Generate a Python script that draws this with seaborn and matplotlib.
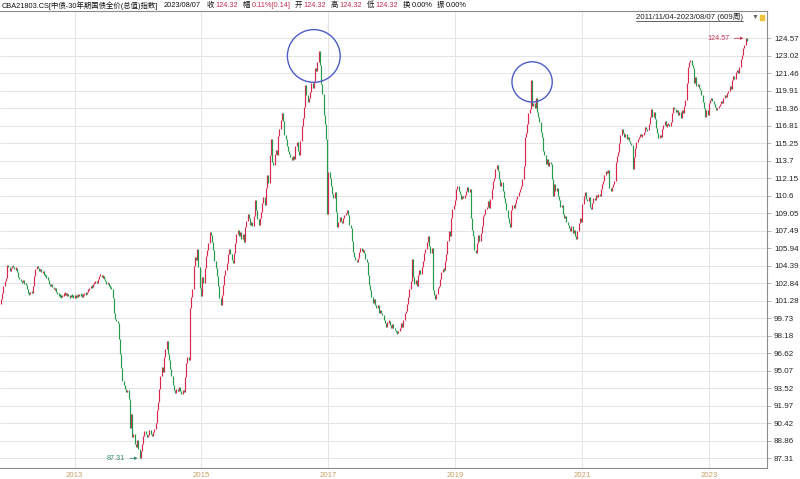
import numpy as np
import pandas as pd
import seaborn as sns
import matplotlib.pyplot as plt
from matplotlib.patches import Rectangle

sns.set_theme(style="white")
plt.rcParams['font.family'] = ['Liberation Sans', 'Noto Sans CJK SC', 'DejaVu Sans']


# weekly closes, 2011/11/04 - 2023/08/07 (609 weeks)
close_2011_2014 = [
    101.4, 102.0, 102.6, 103.0, 103.3, 104.5, 104.3, 103.9, 104.2, 104.4,
    104.3, 104.1, 104.2, 103.8, 103.4, 103.2, 103.0, 102.95, 103.1, 102.8,
    102.7, 102.3, 102.0, 101.9, 102.1, 102.0, 102.6, 103.5, 104.1, 104.4,
    104.2, 103.9, 104.1, 103.8, 103.9, 103.6, 103.5, 103.4, 103.1, 102.8,
    102.6, 102.8, 102.5, 102.3, 102.4, 102.1, 101.9, 101.8, 101.7, 101.6,
    101.8, 101.9, 102.0, 101.8, 101.9, 101.7, 101.6, 101.8, 101.7, 101.6,
    101.7, 101.6, 101.8, 101.7, 101.9, 101.8, 101.7, 101.8, 102.0, 101.9,
    102.1, 102.3, 102.4, 102.6, 102.5, 102.8, 102.9, 103.0, 102.9, 103.2,
    103.5, 103.6, 103.4, 103.5, 103.2, 103.0, 102.8, 102.9, 102.6, 102.5,
    102.3, 101.5, 100.2, 99.7, 99.5, 99.3, 97.9, 96.6, 95.3, 94.2,
    93.8, 93.5, 93.2, 93.4, 92.6, 90.0, 91.2, 89.2, 89.5, 88.6,
    88.3, 88.9, 88.1, 87.31, 88.0, 88.6, 89.3, 89.7, 89.5, 89.2,
    89.4, 89.8, 89.5, 89.3, 89.6, 89.9, 90.4, 91.6, 92.3, 93.5,
    94.6, 95.4, 95.0, 96.3, 97.0, 97.7, 96.6, 96.0, 95.2, 94.6,
    93.8, 93.4, 93.1, 93.5, 93.3, 93.6, 93.3, 93.0, 93.4, 93.2,
    94.5, 95.8, 96.3, 96.0,
]
close_2014_2016 = [
    100.6, 101.6, 102.3, 104.4, 105.2, 104.9, 105.9, 104.3, 102.4, 101.7,
    103.4, 102.9, 104.2, 105.3, 105.8, 106.4, 107.4, 107.1, 106.5, 105.8,
    104.8, 104.2, 103.5, 102.6, 101.5, 100.9, 101.8, 102.7, 103.6, 104.0,
    104.6, 105.4, 105.9, 105.4, 104.9, 104.6, 105.5, 106.4, 107.2, 107.6,
    107.0, 107.4, 106.8, 107.2, 106.5, 107.8, 108.4, 109.0, 108.6, 108.0,
    108.3, 107.9, 108.8, 110.2, 109.3, 108.5, 108.0, 108.6, 109.2, 110.0,
    110.5, 109.8, 111.3, 112.4, 111.7, 114.2, 115.6, 113.6, 113.3, 114.3,
    114.7, 114.2, 115.9, 116.5, 117.3, 117.9, 117.2, 116.0, 115.6, 115.0,
    114.6, 114.3, 114.0, 113.8, 114.1, 113.9, 115.0, 115.4, 114.6, 114.2,
    115.5, 116.8, 117.5, 118.5, 120.4, 119.5, 118.9, 119.3, 119.8, 120.6,
    120.2, 120.8, 121.9, 121.7, 122.5, 123.4, 122.2, 120.5, 119.6, 117.8,
    117.0, 115.6, 109.0,
]
close_2016_2017 = [
    112.7, 112.2, 111.5, 110.8, 110.4, 110.9, 109.2, 107.8, 108.3, 108.7,
    108.4, 108.2, 108.6, 108.9, 109.1, 109.3, 108.9, 108.0, 107.7, 106.6,
    105.6, 105.2, 104.9, 104.7, 105.1, 105.6, 106.0, 105.7, 105.8, 105.5,
    105.0, 104.7, 103.6, 102.7, 102.2, 101.6, 101.1, 101.4, 100.9, 100.6,
    100.9, 100.2, 100.5,
]
close_2017_2020 = [
    100.2, 100.0, 99.6, 99.3, 99.0, 99.4, 99.5, 99.1, 98.9, 99.2,
    98.9, 98.7, 98.5, 98.4, 98.6, 98.9, 99.3, 99.0, 99.6, 100.2,
    100.4, 101.0, 101.6, 102.3, 103.0, 105.0, 103.4, 102.8, 103.1, 102.6,
    103.6, 104.0, 103.7, 104.3, 104.8, 105.5, 105.9, 106.5, 107.0, 106.1,
    105.5, 106.0, 102.2, 101.8, 101.4, 101.9, 102.4, 102.6, 103.2, 103.8,
    104.1, 104.0, 104.8, 105.4, 106.6, 107.5, 107.0, 108.6, 109.4, 109.8,
    110.2, 111.2, 111.5, 111.0, 110.8, 110.3, 110.6, 110.4, 110.7, 111.0,
    111.4, 110.9, 111.2, 108.6, 107.6, 107.0, 105.8, 105.5, 106.4, 107.1,
    106.6, 107.3, 107.9, 108.8, 109.0, 109.4, 109.6, 110.1, 109.5, 110.3,
    111.2, 111.9, 112.2, 113.0, 113.3, 112.8, 112.1, 111.5, 111.8, 111.0,
    110.4, 110.0, 109.3, 108.6, 108.2, 107.8, 109.3, 109.8, 109.5, 110.0,
    110.3, 110.6, 110.9, 111.2, 111.5, 112.1, 113.2, 115.8, 116.2, 117.0,
    117.9, 118.3, 120.9, 118.6, 118.8, 118.4, 119.3, 118.0, 117.6, 117.1,
    116.3, 115.8, 114.6, 114.2, 113.4, 113.9, 113.2, 113.6, 113.4, 112.1,
    110.6, 111.6, 111.0, 111.3, 110.6, 110.2, 109.6, 109.8, 109.0, 108.6,
    108.8, 108.3, 108.0, 107.7, 107.5, 107.9,
]
close_2020_2023 = [
    107.3, 107.6, 107.0, 106.8,
    107.5, 108.2, 108.6, 108.3, 109.9, 110.6, 110.9, 110.3, 110.1, 110.5,
    109.6, 109.4, 110.0, 110.4, 110.2, 110.7, 110.5, 110.8, 110.6, 111.2,
    111.6, 111.9, 112.4, 112.8, 112.6, 112.9, 111.3, 111.0, 111.4, 111.6,
    111.9, 113.6, 114.1, 114.5, 115.3, 116.0, 116.5, 116.2, 115.8, 116.1,
    115.6, 115.8, 115.5, 115.3, 115.1, 113.0, 114.0, 114.8, 115.4, 115.6,
    115.8, 116.1, 115.9, 116.0, 116.3, 116.7, 116.5, 116.4, 117.0, 117.6,
    118.3, 117.6, 118.0, 117.4, 116.6, 116.2, 115.7, 116.0, 115.8, 116.5,
    116.9, 117.2, 116.8, 116.9, 117.0, 116.8, 117.1, 117.9, 118.5, 118.3,
    118.0, 118.2, 117.8, 118.0, 117.5, 118.2, 117.9, 118.6, 119.1, 120.6,
    122.0, 122.5, 122.6, 122.2, 121.9, 120.6, 121.1, 120.3, 120.5, 120.2,
    120.0, 119.5, 118.9, 118.4, 117.6, 118.2, 117.8, 118.8, 119.1, 119.3,
    119.0, 118.7, 118.5, 118.2, 118.4, 118.6, 118.7, 119.0, 118.8, 119.3,
    119.5, 119.4, 119.7, 119.9, 120.3, 120.1, 120.9, 121.2, 121.0, 121.6,
    121.8, 121.5, 122.0, 122.7, 123.1, 123.7, 124.0, 124.57, 124.32,
]
first_open = 101.0

ytick_labels = ["124.57", "123.02", "121.46", "119.91", "118.36", "116.81", "115.25",
                "113.7", "112.15", "110.6", "109.05", "107.49", "105.94", "104.39",
                "102.84", "101.28", "99.73", "98.18", "96.62", "95.07", "93.52",
                "91.97", "90.42", "88.86", "87.31"]
year_labels = ["2013", "2015", "2017", "2019", "2021", "2023"]
start_date, end_date = "2011-11-04", "2023-08-07"

# circled spikes (week, price)
circle_weeks = [255, 433]
circle_prices = [123.0, 120.7]

header_parts = [
    ("CBA21803.CS[中债-30年期国债全价(总值)指数]", "k", 0),
    ("2023/08/07", "k", 5), ("收", "k", 6), ("124.32", "r", 1.5),
    ("幅", "k", 4.5), ("0.11%[0.14]", "r", 1.5), ("开", "k", 4.5), ("124.32", "r", 1.5),
    ("高", "k", 4.5), ("124.32", "r", 1.5), ("低", "k", 4.5), ("124.32", "r", 1.5),
    ("换", "k", 4.5), ("0.00%", "k", 1.5), ("振", "k", 4.5), ("0.00%", "k", 1.5),
]
range_label = "2011/11/04-2023/08/07 (609周)"

RED = "#d8284f"
GREEN = "#249a4c"


closes = np.array(close_2011_2014 + close_2014_2016 + close_2016_2017
                  + close_2017_2020 + close_2020_2023)
opens = np.r_[first_open, closes[:-1]]
df = pd.DataFrame({"week": np.arange(len(closes)), "open": opens, "close": closes})
df["lo"] = df[["open", "close"]].min(axis=1)
df["hi"] = df[["open", "close"]].max(axis=1)
short = (df.hi - df.lo) < 0.12
df.loc[short, "lo"] -= 0.06
df.loc[short, "hi"] += 0.06
df["col"] = np.where(df.close >= df.open, RED, GREEN)

W, H = 800, 479
fig = plt.figure(figsize=(W / 100, H / 100), dpi=100)
ax = fig.add_axes([0, 11 / H, 767 / W, 457 / H])

ax.vlines(df.week, df.lo, df.hi, colors=df.col, linewidth=0.85, zorder=3)

ax.set_xlim(-0.8, 624.5)
ax.set_ylim(86.45, 126.99)

# grid / ticks
yvals = [float(v) for v in ytick_labels]
ax.yaxis.tick_right()
ax.set_yticks(yvals)
ax.set_yticklabels(ytick_labels)
t0, t1 = pd.Timestamp(start_date), pd.Timestamp(end_date)
xpos = [(pd.Timestamp(y + "-01-01") - t0) / (t1 - t0) * (len(closes) - 1) for y in year_labels]
ax.set_xticks(xpos)
ax.set_xticklabels(year_labels)
ax.grid(True, color="#e4e4e4", linewidth=0.7, zorder=0)
ax.tick_params(axis="y", length=3, width=0.6, color="#aaaaaa", pad=2,
               labelsize=5.8, labelcolor="#222222")
ax.tick_params(axis="x", length=0, pad=3, labelsize=5.6, labelcolor="#c6a063")
for side in ["right", "bottom", "top"]:
    ax.spines[side].set_color("#8c8c8c")
    ax.spines[side].set_linewidth(0.8)
ax.spines["left"].set_visible(False)

# extreme labels
imax, imin = int(closes.argmax()), int(closes.argmin())
arrow = dict(arrowstyle="-|>", lw=0.6, mutation_scale=4, shrinkA=1, shrinkB=1)
ax.annotate(f"{closes[imax]:.2f}", xy=(imax - 0.5, closes[imax]), xytext=(-11, 0),
            textcoords="offset points", ha="right", va="center", fontsize=5.2,
            color="#c8375a", arrowprops=dict(arrow, color="#c8375a"))
ax.annotate(f"{closes[imin]:.2f}", xy=(imin - 0.5, closes[imin]), xytext=(-10, 0),
            textcoords="offset points", ha="right", va="center", fontsize=5.2,
            color="#2e8a6a", arrowprops=dict(arrow, color="#2e8a6a"))

# highlight circles
for wk, pr, d in zip(circle_weeks, circle_prices, [38, 29]):
    sns.scatterplot(x=[wk], y=[pr], s=d ** 2, marker="o", facecolor="none",
                    edgecolor="#4d5cc4", linewidth=1.0, ax=ax, zorder=5)

# header line
fig.canvas.draw()
rend = fig.canvas.get_renderer()
x = 2
for txt, c, gap in header_parts:
    x += gap
    t = fig.text(x / W, 1 - 5.5 / H, txt, fontsize=5.3, va="center", ha="left",
                 color="#c0304f" if c == "r" else "#111111")
    x += t.get_window_extent(rend).width

# date range label, underlined
t = fig.text(743 / W, 1 - 17 / H, range_label, fontsize=5.6, va="center", ha="right",
             color="#222222")
bb = t.get_window_extent(rend)
fig.add_artist(plt.Line2D([bb.x0 / W, bb.x1 / W], [bb.y0 / H, bb.y0 / H],
                          color="#222222", linewidth=0.5))
fig.text(755 / W, 1 - 17 / H, "▼", fontsize=5, va="center", ha="center", color="#666666")
fig.add_artist(Rectangle((760 / W, 1 - 20 / H), 4 / W, 5 / H, color="#efc23c",
                         transform=fig.transFigure))

fig.savefig("out.png", dpi=100)
